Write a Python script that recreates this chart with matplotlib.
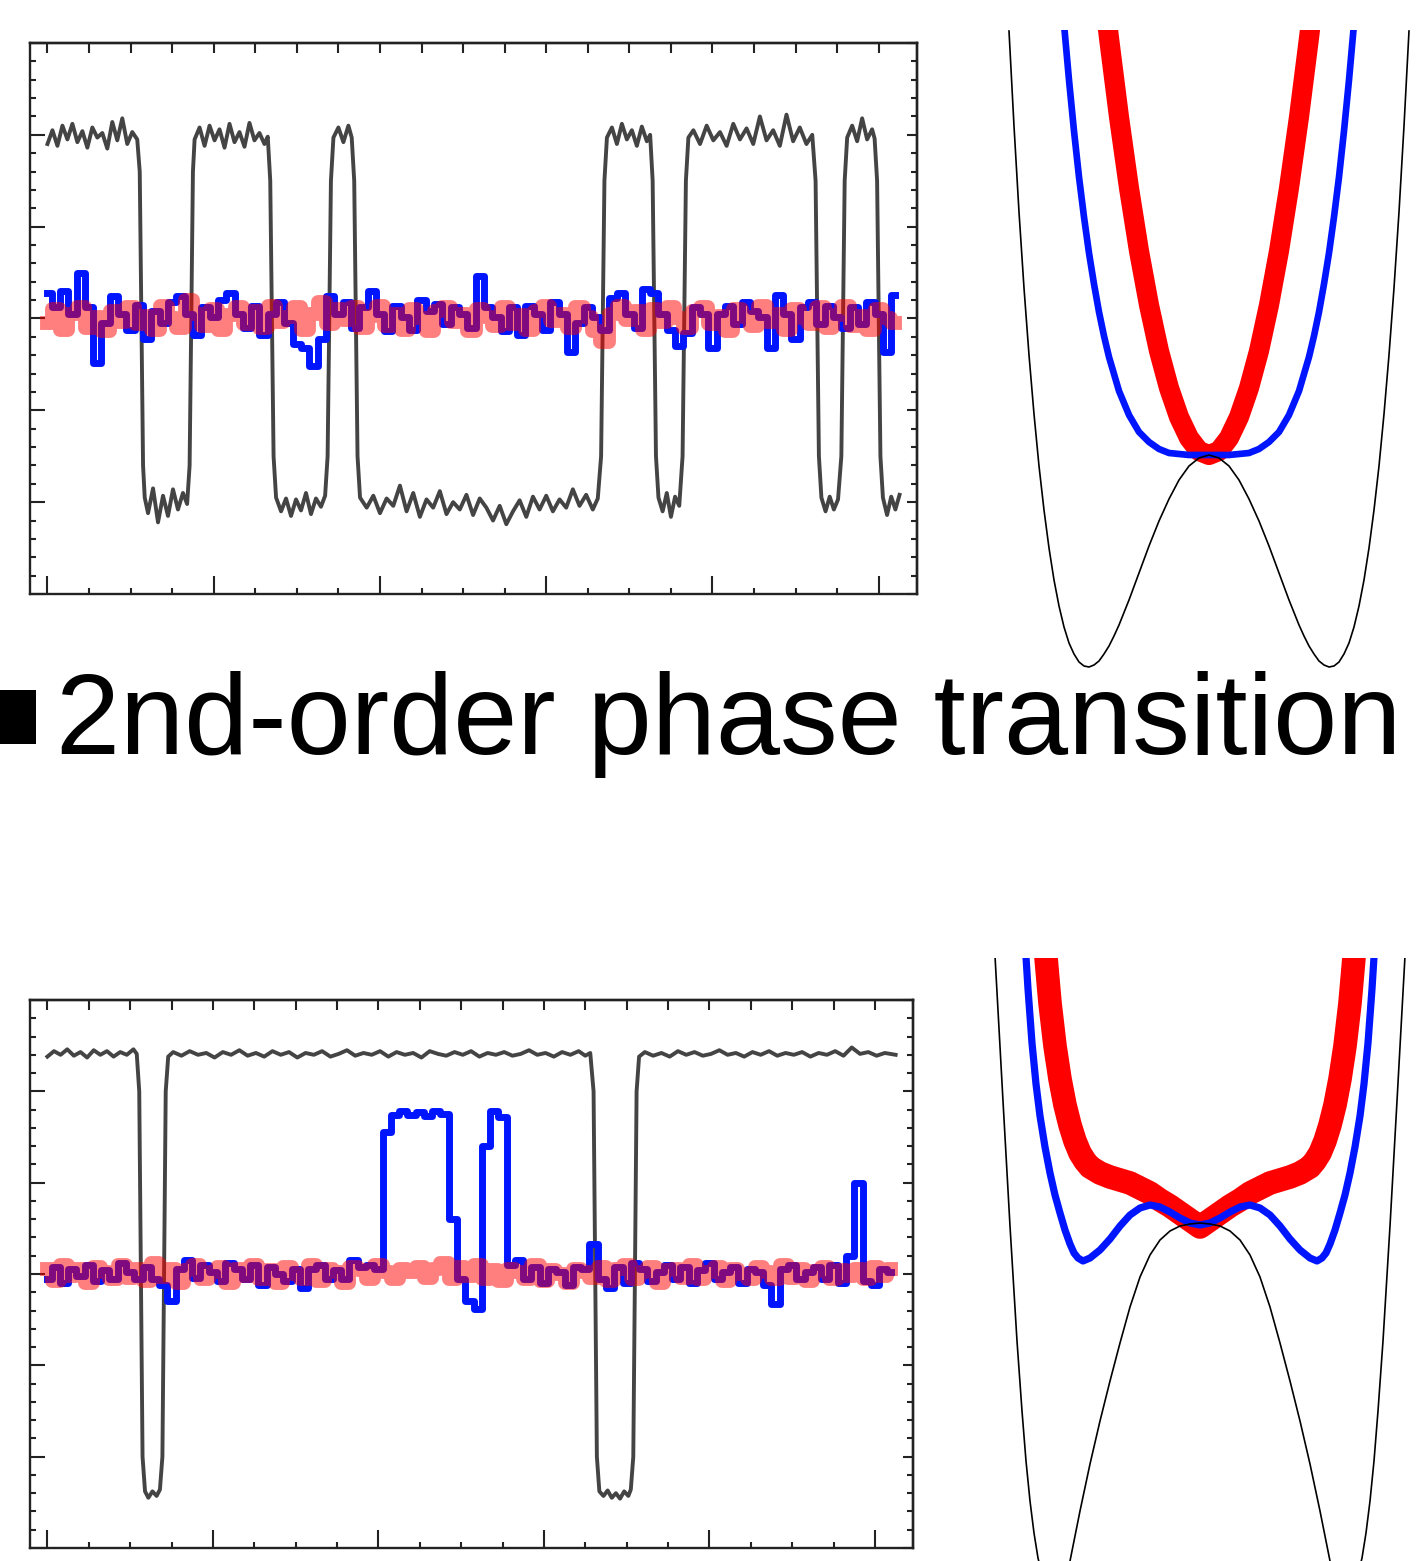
import numpy as np
import matplotlib
matplotlib.use("Agg")
import matplotlib.pyplot as plt
from matplotlib.patches import Rectangle
from matplotlib.ticker import MultipleLocator, NullFormatter

W, H = 1428, 1561

# ---------------- order-parameter traces (left panels) ----------------
# black trace: (time, value) pairs
top_black_trace = [
    (0, 1.90), (6, 2.05), (12, 1.88), (18, 2.10), (24, 1.95), (30, 2.12), (36, 1.92), (42, 2.04), (48, 1.86), (54, 2.08),
    (60, 1.97), (66, 2.02), (72, 1.85), (78, 2.14), (84, 1.94), (90, 2.18), (96, 1.90), (102, 2.03), (108, 1.95),
    (111, 1.60), (113, 0.00), (115, -1.60), (117, -1.95),
    (121, -2.12), (127, -1.85), (133, -2.22), (139, -1.93), (145, -2.15), (151, -1.86), (157, -2.08), (163, -1.90), (168, -2.02),
    (171, -1.60), (173, 0.00), (175, 1.60), (177, 1.95),
    (183, 2.08), (189, 1.88), (195, 2.10), (201, 1.94), (207, 2.06), (213, 1.86), (219, 2.12), (225, 1.92), (231, 2.03),
    (237, 1.87), (243, 2.13), (249, 1.94), (255, 2.02), (261, 1.90), (265, 1.98),
    (268, 1.50), (270, 0.00), (272, -1.50), (275, -1.95),
    (281, -2.10), (287, -1.96), (293, -2.15), (299, -1.97), (305, -2.09), (311, -1.90), (317, -2.13), (323, -1.96),
    (329, -2.05), (334, -1.93),
    (337, -1.50), (339, 0.00), (341, 1.50), (344, 1.97),
    (350, 2.08), (356, 1.92), (362, 2.10), (366, 1.97),
    (369, 1.50), (371, 0.00), (373, -1.50), (376, -1.95),
    (384, -2.06), (392, -1.93), (400, -2.12), (408, -1.96), (416, -2.04), (424, -1.82), (432, -2.10), (440, -1.90),
    (448, -2.16), (456, -1.97), (464, -2.06), (472, -1.88), (480, -2.13), (488, -2.00), (496, -2.08), (504, -1.92),
    (512, -2.14), (520, -1.96), (528, -2.06), (536, -2.20), (544, -2.04), (552, -2.24), (560, -2.10), (568, -1.98),
    (576, -2.16), (584, -1.94), (592, -2.08), (600, -1.93), (608, -2.10), (616, -1.97), (624, -2.06), (632, -1.86),
    (640, -2.04), (648, -1.92), (656, -2.08), (662, -1.96),
    (666, -1.50), (668, 0.00), (670, 1.50), (673, 1.97),
    (679, 2.08), (685, 1.90), (691, 2.12), (697, 1.95), (703, 2.05), (709, 1.88), (715, 2.09), (721, 1.93), (725, 2.00),
    (728, 1.50), (730, 0.00), (732, -1.50), (735, -1.95),
    (740, -2.10), (745, -1.90), (750, -2.16), (755, -1.94), (760, -2.04),
    (764, -1.50), (766, 0.00), (768, 1.50), (771, 1.97),
    (777, 2.05), (785, 1.90), (793, 2.10), (801, 1.94), (809, 2.03), (817, 1.88), (825, 2.12), (833, 1.95),
    (841, 2.07), (849, 1.90), (857, 2.20), (865, 1.94), (873, 2.05), (881, 1.88), (889, 2.22), (897, 1.93),
    (905, 2.08), (913, 1.90), (920, 2.00),
    (924, 1.50), (926, 0.00), (928, -1.50), (931, -1.95),
    (936, -2.10), (941, -1.94), (946, -2.08), (951, -1.97),
    (955, -1.50), (957, 0.00), (959, 1.50), (962, 1.97),
    (968, 2.10), (974, 1.93), (980, 2.18), (986, 1.95), (992, 2.06), (995, 1.96),
    (998, 1.50), (1000, 0.00), (1002, -1.50), (1005, -1.95),
    (1010, -2.14), (1015, -1.94), (1020, -2.08), (1025, -1.92),
]

bottom_black_trace = [
    (0, 2.38), (8, 2.44), (16, 2.40), (24, 2.46), (32, 2.39), (40, 2.43), (48, 2.37), (56, 2.45), (64, 2.40),
    (72, 2.44), (80, 2.38), (88, 2.43), (96, 2.40), (104, 2.46), (108, 2.41),
    (111, 2.00), (113, 0.00), (115, -2.00), (118, -2.38),
    (122, -2.45), (127, -2.38), (132, -2.43), (136, -2.36),
    (139, -2.00), (141, 0.00), (143, 2.00), (146, 2.38),
    (152, 2.43), (162, 2.39), (172, 2.44), (182, 2.40), (192, 2.42), (202, 2.37), (212, 2.43), (222, 2.40),
    (232, 2.45), (242, 2.39), (252, 2.42), (262, 2.38), (272, 2.44), (282, 2.40), (292, 2.43), (302, 2.37),
    (312, 2.42), (322, 2.40), (332, 2.44), (342, 2.38), (352, 2.41), (362, 2.45), (372, 2.39), (382, 2.42),
    (392, 2.40), (402, 2.44), (412, 2.38), (422, 2.43), (432, 2.40), (442, 2.42), (452, 2.37), (462, 2.44),
    (472, 2.41), (482, 2.39), (492, 2.43), (502, 2.40), (512, 2.44), (522, 2.38), (532, 2.42), (542, 2.40),
    (552, 2.43), (562, 2.39), (572, 2.41), (582, 2.45), (592, 2.40), (602, 2.42), (612, 2.38), (622, 2.43),
    (632, 2.40), (642, 2.44), (650, 2.39), (656, 2.42),
    (660, 2.00), (662, 0.00), (664, -2.00), (667, -2.38),
    (672, -2.43), (677, -2.37), (682, -2.45), (687, -2.40), (692, -2.46), (697, -2.38), (702, -2.43), (705, -2.36),
    (708, -2.00), (710, 0.00), (712, 2.00), (715, 2.38),
    (722, 2.43), (732, 2.39), (742, 2.42), (752, 2.38), (762, 2.44), (772, 2.40), (782, 2.43), (792, 2.39),
    (802, 2.41), (812, 2.45), (822, 2.40), (832, 2.42), (842, 2.38), (852, 2.43), (862, 2.40), (872, 2.44),
    (882, 2.39), (892, 2.42), (902, 2.40), (912, 2.43), (922, 2.38), (932, 2.42), (942, 2.40), (952, 2.44),
    (962, 2.39), (972, 2.48), (982, 2.41), (992, 2.43), (1002, 2.39), (1012, 2.42), (1025, 2.40),
]

# blue / red traces sampled every 10 time steps, starting at t = 0
sample_step = 10
top_blue = [
    0.28, 0.12, 0.30, 0.05, 0.50, 0.12, -0.48, -0.05, 0.25, 0.05,
    -0.12, 0.15, -0.22, 0.08, -0.05, 0.18, 0.24, 0.05, -0.18, 0.12,
    0.02, 0.20, 0.28, 0.05, -0.10, 0.14, -0.18, 0.05, 0.18, -0.05,
    -0.28, -0.32, -0.52, -0.22, 0.24, 0.05, 0.18, -0.10, 0.12, 0.30,
    0.05, -0.14, 0.14, 0.02, -0.12, 0.20, 0.08, 0.16, -0.06, 0.12,
    0.05, -0.10, 0.46, 0.12, 0.02, -0.14, 0.12, -0.18, 0.14, 0.05,
    -0.12, 0.18, 0.05, -0.36, -0.05, 0.12, 0.02, -0.12, 0.22, 0.28,
    0.05, -0.10, 0.32, 0.28, 0.05, -0.12, -0.30, -0.16, 0.12, 0.05,
    -0.32, 0.05, 0.14, -0.06, 0.18, 0.08, 0.02, -0.32, 0.26, 0.05,
    -0.22, 0.12, 0.18, -0.06, 0.14, 0.02, -0.10, 0.12, -0.06, 0.18,
    0.05, -0.36, 0.26,
]
top_red = [
    -0.05, 0.10, -0.12, 0.05, 0.12, -0.10, 0.02, -0.14, 0.08, -0.04,
    0.12, -0.06, 0.03, -0.12, 0.14, 0.00, -0.10, 0.20, 0.05, -0.08,
    0.10, -0.12, 0.04, 0.12, -0.06, 0.08, -0.10, 0.14, -0.04, 0.02,
    0.12, -0.12, 0.05, 0.18, -0.06, 0.10, -0.02, 0.12, -0.10, 0.03,
    0.14, -0.08, 0.05, -0.12, 0.10, 0.00, -0.14, 0.08, 0.12, -0.04,
    0.05, -0.14, 0.10, 0.02, -0.08, 0.12, -0.06, 0.04, -0.12, 0.08,
    0.14, -0.03, 0.05, -0.10, 0.12, 0.02, -0.14, -0.26, 0.05, 0.14,
    -0.02, 0.08, -0.12, 0.10, -0.04, 0.12, 0.00, -0.10, 0.08, 0.12,
    -0.06, 0.03, -0.14, 0.10, 0.02, -0.08, 0.14, -0.04, 0.05, -0.12,
    0.10, 0.00, -0.06, 0.12, -0.10, 0.04, 0.14, -0.08, 0.03, -0.12,
    0.10, 0.00, -0.05,
]
bottom_blue = [
    -0.05, 0.08, -0.10, 0.05, -0.02, 0.10, -0.08, 0.04, -0.05, 0.12,
    0.02, -0.06, 0.08, -0.05, -0.12, -0.30, 0.05, 0.15, -0.04, 0.10,
    0.02, -0.08, 0.12, 0.05, -0.05, 0.10, -0.12, 0.08, 0.00, -0.08,
    0.06, -0.15, 0.05, 0.10, -0.05, 0.04, -0.06, 0.15, 0.08, 0.10,
    0.05, 1.55, 1.74, 1.78, 1.74, 1.77, 1.73, 1.78, 1.75, 0.60,
    -0.05, -0.30, -0.38, 1.40, 1.78, 1.72, 0.10, 0.15, -0.05, 0.08,
    -0.10, 0.05, 0.02, -0.12, 0.08, 0.05, 0.33, -0.05, -0.15, 0.08,
    -0.10, 0.12, 0.05, -0.08, 0.02, 0.10, -0.05, 0.08, -0.10, 0.04,
    0.12, -0.05, 0.02, 0.08, -0.10, 0.05, 0.02, -0.12, -0.33, 0.05,
    0.10, -0.05, 0.02, 0.08, -0.06, 0.10, -0.10, 0.20, 1.00, -0.08,
    -0.12, 0.05, 0.02,
]
bottom_red = [
    0.05, -0.08, 0.10, -0.02, 0.06, -0.10, 0.08, 0.02, -0.06, 0.10,
    -0.04, 0.05, -0.08, 0.12, -0.03, 0.06, -0.10, 0.04, 0.10, -0.05,
    0.02, 0.08, -0.10, 0.05, -0.02, 0.10, -0.06, 0.04, -0.10, 0.08,
    0.00, -0.05, 0.10, -0.08, 0.05, 0.02, -0.10, 0.08, 0.04, -0.05,
    0.10, 0.02, -0.06, 0.05, 0.02, 0.08, -0.04, 0.06, 0.12, -0.05,
    0.08, -0.02, 0.10, -0.06, 0.04, -0.08, 0.06, 0.02, -0.05, 0.10,
    -0.08, 0.04, 0.00, -0.10, 0.06, 0.02, -0.04, 0.08, -0.08, 0.05,
    0.10, -0.05, 0.02, 0.08, -0.10, 0.04, 0.06, -0.04, 0.10, -0.06,
    0.02, 0.08, -0.08, 0.05, 0.00, -0.06, 0.08, 0.02, -0.05, 0.10,
    -0.04, 0.06, -0.08, 0.03, 0.08, -0.05, 0.04, -0.02, 0.06, -0.06,
    0.08, -0.02, 0.05,
]

# ---------------- potentials (right panels), right halves (symmetric) ----------------
top_pot_black_phi = [0.0, 0.1, 0.2, 0.3, 0.4, 0.5, 0.6, 0.7, 0.8, 0.9, 0.95, 1.0, 1.05, 1.1, 1.15, 1.2,
                     1.25, 1.3, 1.35, 1.4, 1.45, 1.5, 1.55, 1.6, 1.65, 1.7, 1.75, 1.8, 1.85, 1.9, 1.95, 2.0]
top_pot_black_V = [2.17, 2.14, 2.06, 1.92, 1.73, 1.51, 1.26, 0.99, 0.72, 0.47, 0.36, 0.26, 0.18, 0.11, 0.07, 0.05,
                   0.06, 0.10, 0.18, 0.29, 0.45, 0.66, 0.92, 1.24, 1.62, 2.06, 2.58, 3.17, 3.84, 4.60, 5.46, 6.41]
top_pot_blue_phi = [0.0, 0.1, 0.2, 0.3, 0.4, 0.5, 0.6, 0.7, 0.8, 0.9, 1.0, 1.05, 1.1, 1.15, 1.2, 1.25, 1.3, 1.35, 1.4, 1.45]
top_pot_blue_V = [2.17, 2.17, 2.17, 2.18, 2.19, 2.23, 2.30, 2.40, 2.57, 2.81, 3.15, 3.36, 3.60, 3.88, 4.19, 4.55,
                  4.95, 5.41, 5.92, 6.48]
top_pot_red_phi = [0.0, 0.1, 0.2, 0.3, 0.4, 0.5, 0.6, 0.7, 0.8, 0.9, 1.0, 1.05]
top_pot_red_V = [2.17, 2.21, 2.34, 2.55, 2.84, 3.21, 3.67, 4.21, 4.84, 5.55, 6.34, 6.77]

bottom_pot_black_phi = [0.0, 0.1, 0.2, 0.3, 0.4, 0.5, 0.6, 0.7, 0.8, 0.9, 1.0, 1.1, 1.2, 1.3, 1.35, 1.4, 1.46,
                        1.52, 1.57, 1.62, 1.66, 1.7, 1.74, 1.78, 1.83, 1.9, 1.97, 2.05, 2.08]
bottom_pot_black_V = [3.38, 3.37, 3.35, 3.30, 3.21, 3.06, 2.84, 2.54, 2.18, 1.80, 1.40, 0.97, 0.50, 0.00, -0.20,
                      -0.33, -0.40, -0.34, -0.17, 0.03, 0.28, 0.60, 1.00, 1.50, 2.20, 3.35, 4.60, 6.05, 6.60]
bottom_pot_blue_phi = [0.0, 0.1, 0.2, 0.3, 0.4, 0.5, 0.6, 0.7, 0.8, 0.9, 1.0, 1.1, 1.17, 1.22, 1.26, 1.3, 1.35,
                       1.4, 1.45, 1.5, 1.55, 1.6, 1.64, 1.68, 1.72, 1.75]
bottom_pot_blue_V = [3.36, 3.38, 3.43, 3.49, 3.54, 3.56, 3.53, 3.46, 3.35, 3.22, 3.11, 3.03, 3.00, 3.03, 3.08,
                     3.17, 3.31, 3.48, 3.66, 3.88, 4.14, 4.45, 4.77, 5.18, 5.72, 6.20]
bottom_pot_red_phi = [0.0, 0.1, 0.2, 0.3, 0.4, 0.5, 0.6, 0.7, 0.8, 0.9, 1.0, 1.1, 1.15, 1.2, 1.25, 1.3, 1.35,
                      1.4, 1.45, 1.5, 1.55]
bottom_pot_red_V = [3.34, 3.41, 3.48, 3.55, 3.61, 3.68, 3.73, 3.78, 3.81, 3.84, 3.88, 3.94, 4.00, 4.08, 4.20,
                    4.36, 4.56, 4.82, 5.15, 5.58, 6.15]

title = "2nd-order phase transition"

BLACK = "#444444"
BLUE = "#0015ff"
RED = "#ff0000"
SPINE = "#222222"


def px_rect(x0, y0, x1, y1):
    return [x0 / W, 1 - y1 / H, (x1 - x0) / W, (y1 - y0) / H]


def mirror(half_x, half_y):
    x = np.asarray(half_x)
    y = np.asarray(half_y)
    return np.concatenate([-x[:0:-1], x]), np.concatenate([y[:0:-1], y])


def trace_axes(fig, rect):
    ax = fig.add_axes(px_rect(*rect))
    ax.set_xlim(-21, 1046)
    ax.set_ylim(-3, 3)
    ax.xaxis.set_major_locator(MultipleLocator(200))
    ax.xaxis.set_minor_locator(MultipleLocator(50))
    ax.yaxis.set_major_locator(MultipleLocator(1))
    ax.yaxis.set_minor_locator(MultipleLocator(0.2))
    ax.xaxis.set_major_formatter(NullFormatter())
    ax.yaxis.set_major_formatter(NullFormatter())
    ax.tick_params(which="both", direction="in", color=SPINE, width=1.5, top=False, right=False)
    ax.tick_params(axis="x", which="major", length=13)
    ax.tick_params(axis="y", which="major", length=11)
    ax.tick_params(which="minor", length=4.5)
    for s in ax.spines.values():
        s.set_color(SPINE)
        s.set_linewidth(1.7)

    top = ax.secondary_xaxis("top")
    top.xaxis.set_major_locator(MultipleLocator(50))
    top.xaxis.set_major_formatter(NullFormatter())
    top.tick_params(direction="in", length=7.5, color=SPINE, width=1.5)
    top.spines["top"].set_color(SPINE)
    top.spines["top"].set_linewidth(1.7)

    right = ax.secondary_yaxis("right")
    right.yaxis.set_major_locator(MultipleLocator(1))
    right.yaxis.set_minor_locator(MultipleLocator(0.2))
    right.yaxis.set_major_formatter(NullFormatter())
    right.tick_params(which="major", direction="in", length=7.5, color=SPINE, width=1.5)
    right.tick_params(which="minor", direction="in", length=4.5, color=SPINE, width=1.5)
    right.spines["right"].set_color(SPINE)
    right.spines["right"].set_linewidth(1.7)
    return ax


def draw_traces(ax, black, blue, red):
    bt, by = np.array(black).T
    ax.plot(bt, by, color=BLACK, lw=2.8, solid_joinstyle="round")
    t = np.arange(len(blue)) * sample_step
    ax.plot(t, blue, color=BLUE, lw=5.0, drawstyle="steps-mid")
    t = np.arange(len(red)) * sample_step
    ax.plot(t, red, color=RED, lw=10.0, alpha=0.5, drawstyle="steps-mid")


def potential_axes(fig, rect, xlim, ylim):
    ax = fig.add_axes(px_rect(*rect))
    ax.set_xlim(*xlim)
    ax.set_ylim(*ylim)
    ax.axis("off")
    return ax


fig = plt.figure(figsize=(W / 100, H / 100), dpi=100)
fig.patch.set_facecolor("white")

# top trace panel
ax1 = trace_axes(fig, (30, 43, 917, 594))
draw_traces(ax1, top_black_trace, top_blue, top_red)

# bottom trace panel
ax2 = trace_axes(fig, (30, 1000, 913, 1548))
draw_traces(ax2, bottom_black_trace, bottom_blue, bottom_red)

# top potential
ax3 = potential_axes(fig, (995, 30, 1428, 672), (-2.14, 2.19), (0, 6.42))
x, y = mirror(top_pot_red_phi, top_pot_red_V)
ax3.plot(x, y, color=RED, lw=14.5, solid_capstyle="butt")
x, y = mirror(top_pot_blue_phi, top_pot_blue_V)
ax3.plot(x, y, color=BLUE, lw=4.8, solid_capstyle="butt")
x, y = mirror(top_pot_black_phi, top_pot_black_V)
ax3.plot(x, y, color="black", lw=1.2)

# bottom potential
ax4 = potential_axes(fig, (960, 958, 1428, 1561), (-2.40, 2.28), (0, 6.03))
x, y = mirror(bottom_pot_red_phi, bottom_pot_red_V)
ax4.plot(x, y, color=RED, lw=17, solid_capstyle="butt")
x, y = mirror(bottom_pot_blue_phi, bottom_pot_blue_V)
ax4.plot(x, y, color=BLUE, lw=5.2, solid_capstyle="butt")
x, y = mirror(bottom_pot_black_phi, bottom_pot_black_V)
ax4.plot(x, y, color="black", lw=1.2)

# heading with square bullet
fig.patches.append(Rectangle((0, 1 - 744 / H), 36 / W, 54 / H, transform=fig.transFigure,
                             facecolor="black", edgecolor="none"))
fig.text(56 / W, 1 - 754 / H, title, fontsize=83, family=["Liberation Sans", "DejaVu Sans"],
         ha="left", va="baseline", color="black")

fig.savefig("out.png", dpi=100)
